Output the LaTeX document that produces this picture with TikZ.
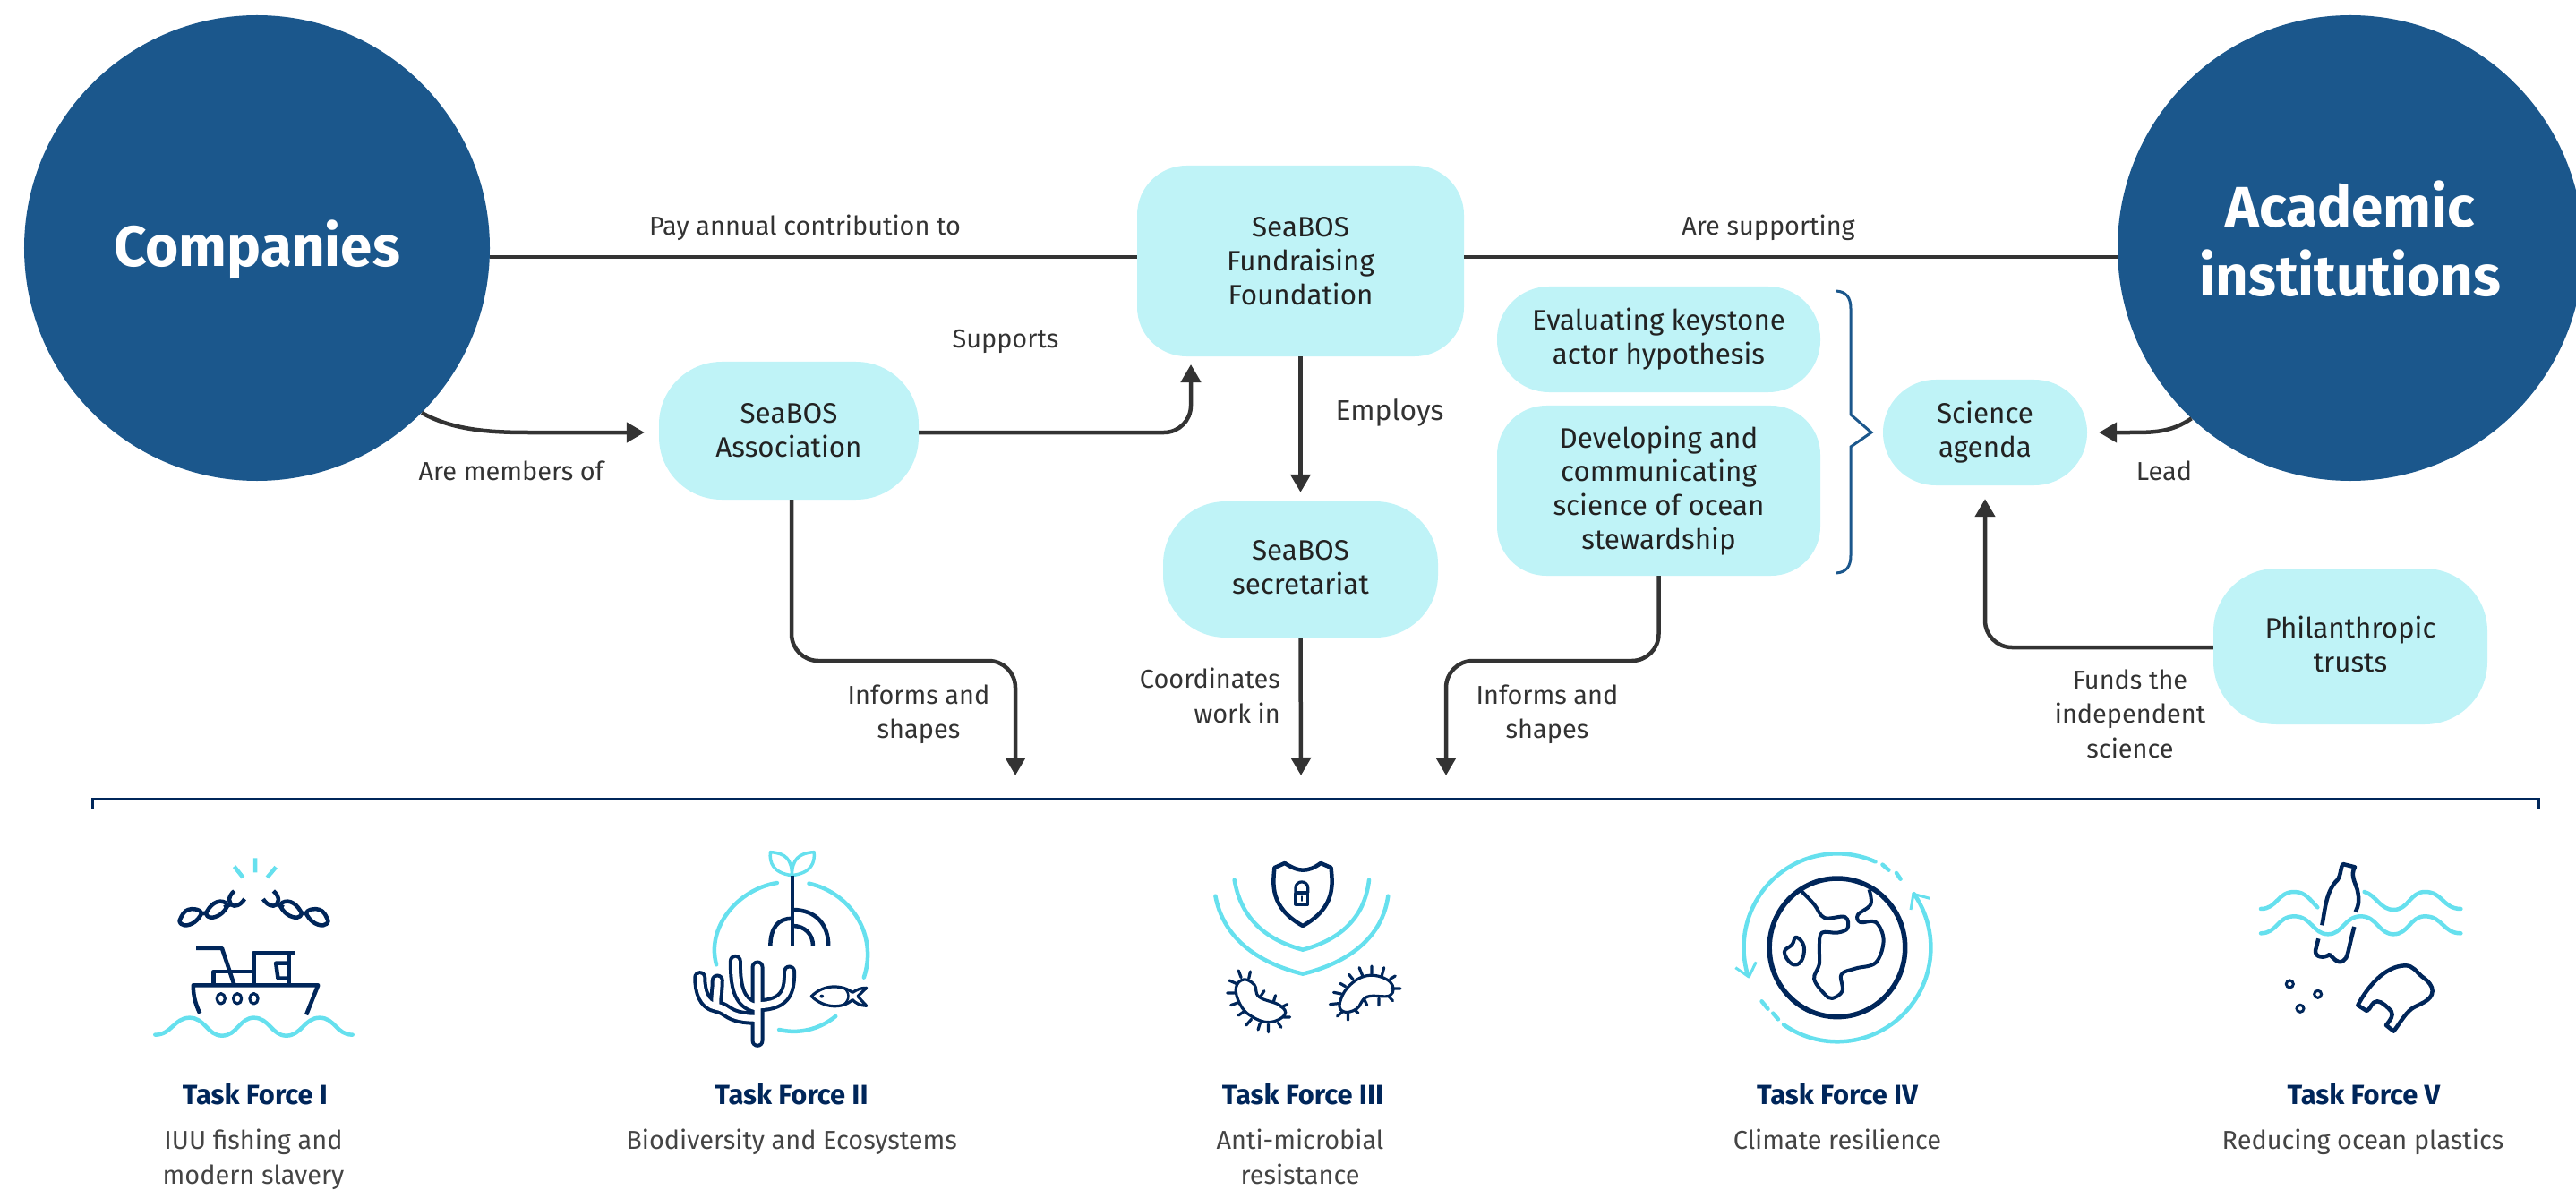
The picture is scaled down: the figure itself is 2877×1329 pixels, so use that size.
\documentclass[tikz,border=0pt]{standalone}
\usepackage{fontspec}
\setmainfont{Fira Sans}
\usetikzlibrary{arrows.meta,calc}
\definecolor{bigblue}{HTML}{1B578C}
\definecolor{pale}{HTML}{BFF3F7}
\definecolor{navy}{HTML}{00265A}
\definecolor{aqua}{HTML}{66E0EE}
\definecolor{ink}{HTML}{222222}
\definecolor{linec}{HTML}{333333}
\definecolor{graytxt}{HTML}{444444}
\tikzset{
  bigcircle/.style={circle,fill=bigblue,text=white,inner sep=0pt,minimum size=520bp,align=center,font=\fontsize{64}{77}\selectfont\bfseries},
  palebox/.style={fill=pale,text=ink,inner sep=0pt,align=center,font=\fontsize{31.5}{38}\selectfont},
  lab/.style={text=linec,inner sep=0pt,align=center,font=\fontsize{29}{38.5}\selectfont},
  tftitle/.style={text=navy,inner sep=0pt,font=\fontsize{31}{36}\selectfont\bfseries},
  tfsub/.style={text=graytxt,inner sep=0pt,align=center,font=\fontsize{29}{38.5}\selectfont},
  conn/.style={draw=linec,line width=4.5bp},
  arrowconn/.style={conn,-{Triangle[length=20bp,width=22bp]}},
  bent/.style={arrowconn,rounded corners=30bp},
  ic/.style={draw=navy,line width=4.5bp,line join=round},
  icthin/.style={draw=navy,line width=3.2bp,line join=round,line cap=round},
  cy/.style={draw=aqua,line width=4.5bp,line cap=round,line join=round},
  zoomA/.style={xscale=0.574,yscale=0.3333},
}
\begin{document}
\begin{tikzpicture}[x=1bp,y=-1bp]
\useasboundingbox (0,0) rectangle (2877,1329);

% circles
\node[bigcircle] (comp) at (287,277) {\raisebox{-21bp}[0pt][0pt]{Companies}};
\node[bigcircle] (acad) at (2625,277) {Academic\\institutions\\[-55bp]\mbox{}};

% boxes
\node[palebox,minimum width=365bp,minimum height=213bp,rounded corners=55bp] (fund) at (1452.5,291.5) {SeaBOS\\Fundraising\\Foundation};
\node[palebox,minimum width=290bp,minimum height=154bp,rounded corners=70bp] (assoc) at (881,481) {SeaBOS\\Association};
\node[palebox,minimum width=307bp,minimum height=152bp,rounded corners=70bp] (sec) at (1452.5,636) {SeaBOS\\secretariat\\[-32bp]\mbox{}};
\node[palebox,minimum width=361bp,minimum height=118bp,rounded corners=58bp] (keystone) at (1852.5,379) {Evaluating keystone\\actor hypothesis};
\node[palebox,minimum width=361bp,minimum height=190bp,rounded corners=55bp] (dev) at (1852.5,548) {Developing and\\communicating\\science of ocean\\stewardship};
\node[palebox,minimum width=228bp,minimum height=118bp,rounded corners=59bp] (sci) at (2217,483) {Science\\agenda};
\node[palebox,minimum width=306bp,minimum height=174bp,rounded corners=70bp] (phil) at (2625,722) {Philanthropic\\trusts\\[-32bp]\mbox{}};

% free ends
\coordinate (fundin) at (1330,407);
\coordinate (tfa) at (1134,866);
\coordinate (tfb) at (1453,866);
\coordinate (tfc) at (1615,866);

% connectors
\draw[conn] ([yshift=4.5bp]fund.west -| comp.-2.2) -- ([yshift=4.5bp]fund.west);
\draw[conn] ([yshift=4.5bp]fund.east) -- ([yshift=4.5bp]fund.east -| acad.182.2);
\draw[arrowconn] (comp.-45) .. controls (505,480) and (545,483) .. (590,483) -- ([xshift=-16bp,yshift=-2bp]assoc.west);
\draw[bent] ([yshift=-2bp]assoc.east) -| (fundin);
\draw[arrowconn] (fund.south) -- ([yshift=10bp]sec.north);
\draw[bent] ([xshift=3bp]assoc.south) |- ($(tfa)+(0,-128)$) -- (tfa);
\draw[arrowconn] (sec.south) -- (tfb);
\draw[bent] (dev.south) |- ($(tfc)+(0,-128)$) -- (tfc);
\draw[bent] ([yshift=-1bp]phil.west) -| ([yshift=-15bp]sci.south);
\draw[arrowconn] (acad.227) .. controls (2425,483) and (2405,483) .. (2378,483) -- ([xshift=13bp]sci.east);

% brace
\draw[draw=bigblue,line width=3bp,line join=miter]
  (2051,325) .. controls (2062,326) and (2067,332) .. (2067,345) -- (2067,463) -- (2090,483) -- (2067,499) -- (2067,620) .. controls (2067,633) and (2062,639) .. (2051,640);

% labels
\node[lab] (l1) at (899,254) {Pay annual contribution to};
\node[lab] (l2) at (1975,254) {Are supporting};
\node[lab] (l3) at (1123,381) {Supports};
\node[lab,font=\fontsize{32}{38}\selectfont] (l4) at (1552,461) {Employs};
\node[lab] (l5) at (571,526) {Are members of};
\node[lab] (l6) at (2417,526) {Lead};
\node[lab] (l7) at (1026,798) {Informs and\\shapes};
\node[lab,align=right,anchor=east] (l8) at (1430,777) {Coordinates\\work in};
\node[lab] (l9) at (1728,798) {Informs and\\shapes};
\node[lab] (l10) at (2379,797) {Funds the\\independent\\science};

% bracket
\draw[draw=navy,line width=3bp] (103,903) -- (103,892) -- (2835,892) -- (2835,903);

% task force texts
\node[tftitle] (t1) at (285,1222) {Task Force I};
\node[tftitle] (t2) at (884,1222) {Task Force II};
\node[tftitle] (t3) at (1455,1222) {Task Force III};
\node[tftitle] (t4) at (2052,1222) {Task Force IV};
\node[tftitle] (t5) at (2640,1222) {Task Force V};
\node[tfsub,anchor=north] (s1) at (283,1261) {IUU fishing and\\modern slavery};
\node[tfsub,anchor=north] (s2) at (884,1261) {Biodiversity and Ecosystems};
\node[tfsub,anchor=north] (s3) at (1452,1261) {Anti-microbial\\resistance};
\node[tfsub,anchor=north] (s4) at (2052,1261) {Climate resilience};
\node[tfsub,anchor=north] (s5) at (2639,1261) {Reducing ocean plastics};

% ICONS 1 and 2
\begin{scope}[shift={(140,930)},zoomA]
 % sparks
 \draw[cy,line cap=butt] (253,85)--(253,133) (212,113)--(229,150) (293,115)--(276,150);
 % chain
 \begin{scope}[every path/.append style={line width=5bp}]
 \draw[ic] plot[smooth cycle,tension=.8] coordinates {(108,285)(122,258)(145,262)(143,285)(125,308)(108,305)};
 \draw[ic] plot[smooth cycle,tension=.8] coordinates {(160,260)(178,232)(197,238)(192,262)(175,282)(160,280)};
 \draw[ic] (145,272)--(160,268) (192,250)--(205,240);
 \draw[ic] (212,195) .. controls (198,215) and (200,240) .. (212,245) .. controls (222,245) and (228,232) .. (232,222);
 \draw[ic] plot[smooth cycle,tension=.8] coordinates {(392,285)(378,258)(355,262)(357,285)(375,308)(392,305)};
 \draw[ic] plot[smooth cycle,tension=.8] coordinates {(340,260)(322,232)(303,238)(308,262)(325,282)(340,280)};
 \draw[ic] (355,272)--(340,268) (308,250)--(295,240);
 \draw[ic] (288,195) .. controls (302,215) and (300,240) .. (288,245) .. controls (278,245) and (272,232) .. (268,222);
 \end{scope}
 % boat
 \draw[ic] (145,605) .. controls (135,570) and (132,540) .. (132,511) -- (375,511) -- (352,610);
 \draw[ic] (172,511)--(172,465)--(248,465);
 \draw[ic] (250,511)--(250,402)--(330,402);
 \draw[ic] (318,402)--(318,511);
 \draw[ic] (318,437)--(293,437)--(297,488)--(318,488);
 \draw[ic] (138,387)--(188,387)--(212,511);
 \foreach \px in {186,218,250}{\draw[icthin] (\px,556) ellipse [x radius=8,y radius=17];}
 \draw[cy] (58,677) .. controls (90,677) and (95,620) .. (125,620) .. controls (155,620) and (160,680) .. (188,680) .. controls (218,680) and (222,620) .. (250,620) .. controls (280,620) and (285,680) .. (313,680) .. controls (343,680) and (348,620) .. (378,620) .. controls (408,620) and (410,677) .. (442,677);
 % plant
 \draw[cy,line width=3.5bp] (1297,143) .. controls (1260,135) and (1253,100) .. (1255,65) .. controls (1285,68) and (1297,90) .. (1297,143) .. controls (1297,90) and (1310,68) .. (1340,65) .. controls (1342,100) and (1335,135) .. (1297,143);
 \draw[ic] (1298,143)--(1298,380);
 \draw[ic] (1298,258) .. controls (1345,258) and (1368,310) .. (1368,380);
 \draw[ic] (1298,288) .. controls (1270,285) and (1255,320) .. (1255,380);
 \draw[ic] (1298,312) .. controls (1322,312) and (1338,340) .. (1338,380);
 \draw[cy] (1268,168) .. controls (1190,190) and (1130,320) .. (1150,442);
 \draw[cy] (1330,170) .. controls (1410,200) and (1465,340) .. (1437,485);
 \draw[cy] (1272,660) .. controls (1310,675) and (1350,660) .. (1382,615);
 % coral
 \draw[draw=navy,line width=4bp,double=white,double distance=7bp,line cap=round,line join=round]
   (1230,697) -- (1230,450)
   (1230,578) .. controls (1290,578) and (1292,520) .. (1292,465)
   (1230,585) .. controls (1190,575) and (1187,500) .. (1187,430)
   (1230,622) .. controls (1170,622) and (1175,590) .. (1150,583) .. controls (1125,575) and (1118,530) .. (1118,485)
   (1150,583) .. controls (1148,560) and (1152,530) .. (1152,495);
 % fish
 \draw[icthin] (1335,548) .. controls (1360,505) and (1395,510) .. (1415,535) .. controls (1425,525) and (1430,520) .. (1442,520) -- (1425,548) -- (1442,580) .. controls (1430,580) and (1420,570) .. (1415,560) .. controls (1395,590) and (1360,590) .. (1335,548) -- cycle;
 \draw[icthin,line width=2.4bp] (1397,518) .. controls (1410,535) and (1410,560) .. (1397,577);
 \fill[navy] (1355,548) ellipse [x radius=4,y radius=6];
\end{scope}

% ICONS 3 and 4
\begin{scope}[shift={(1300,930)},zoomA]
 \draw[ic] (215,117) -- (235,102) .. controls (250,118) and (260,125) .. (270,125) .. controls (282,125) and (292,118) .. (305,102) -- (325,117) .. controls (328,170) and (335,250) .. (270,312) .. controls (205,250) and (212,170) .. (215,117) -- cycle;
 \draw[icthin] (256,203) rectangle (280,240);
 \draw[icthin] (256,200) -- (256,185) .. controls (256,158) and (280,158) .. (280,185) -- (280,200) -- cycle;
 \draw[icthin,line width=1.6bp] (268,213)--(268,228);
 \draw[cy] (137,158) .. controls (150,290) and (200,360) .. (270,392) .. controls (340,360) and (390,290) .. (399,158);
 \draw[cy] (100,212) .. controls (115,350) and (180,435) .. (270,473) .. controls (360,435) and (425,350) .. (436,212);
 % bacteria
 \draw[icthin] plot[smooth cycle,tension=.7] coordinates {(140,520)(155,492)(176,510)(185,550)(225,578)(235,610)(205,635)(170,615)(148,575)};
 \draw[icthin] (145,462)--(150,485) (168,465)--(165,488) (127,495)--(140,505) (123,537)--(137,537) (130,578)--(143,570) (145,612)--(155,600) (160,645)--(170,625) (183,660)--(187,638) (203,668)--(203,642) (228,652)--(222,637) (245,618)--(233,618) (240,575)--(228,585) (217,545)--(213,567) (195,530)--(188,548);
 \draw[icthin] plot[smooth cycle,tension=.7] coordinates {(342,570)(362,510)(400,478)(440,500)(440,545)(395,550)(375,590)(350,600)};
 \draw[icthin] (380,452)--(386,478) (404,447)--(404,472) (428,452)--(424,478) (450,480)--(440,490) (460,522)--(443,522) (445,563)--(437,548) (418,578)--(418,555) (395,578)--(390,560) (360,475)--(368,492) (343,505)--(353,515) (330,535)--(345,540) (323,575)--(340,572) (337,615)--(347,600) (358,628)--(358,605) (378,605)--(372,595);
 % globe
 \draw[ic,line width=5.5bp] (1310,385) ellipse [x radius=132,y radius=232];
 \draw[ic,line width=4bp,line cap=butt] plot[smooth,tension=.6] coordinates {(1240,195)(1265,240)(1285,285)(1325,282)(1330,320)(1310,335)(1280,335)(1275,380)(1275,440)(1265,490)(1285,540)(1300,555)(1320,530)(1318,475)(1345,455)(1385,435)(1400,360)(1385,300)(1355,300)(1350,275)(1375,240)(1372,190)};
 \draw[ic,line width=4bp] plot[smooth cycle,tension=.7] coordinates {(1230,350)(1245,380)(1240,430)(1222,440)(1207,400)(1222,375)};
 % ring
 \draw[cy] plot[domain=66:197,samples=60] ({1310+182*cos(\x)},{385-315*sin(\x)});
 \draw[cy] plot[domain=235:395,samples=60] ({1310+182*cos(\x)},{385-315*sin(\x)});
 \draw[cy,line width=3bp,line cap=butt] (1112,452)--(1138,483)--(1152,433);
 \draw[cy,line width=3bp,line cap=butt] (1490,220)--(1458,205)--(1453,258);
 \draw[cy] (1398,107)--(1410,125) (1425,135)--(1433,155) (1163,565)--(1175,590) (1185,605)--(1195,625);
\end{scope}

% ICON 5
\begin{scope}[shift={(2400,930)},scale=0.3333]
 \draw[ic] (580,310) .. controls (590,260) and (592,205) .. (625,165) .. controls (645,150) and (640,120) .. (650,105) -- (690,115) .. controls (675,140) and (690,165) .. (698,190) .. controls (705,220) and (705,240) .. (692,265);
 \draw[ic] (568,355) -- (558,395) .. controls (556,420) and (590,420) .. (605,408) .. controls (620,420) and (630,440) .. (650,430) .. controls (668,420) and (665,400) .. (688,315);
 \draw[cy] (375,255) .. controls (430,255) and (430,198) .. (487,198) .. controls (525,198) and (540,225) .. (565,250);
 \draw[cy] (722,198) .. controls (760,208) and (775,258) .. (820,258) .. controls (870,258) and (875,198) .. (925,198) .. controls (985,198) and (985,255) .. (1045,255);
 \draw[cy] (375,337) .. controls (430,337) and (430,280) .. (487,280) .. controls (545,280) and (550,340) .. (600,340) .. controls (650,340) and (655,280) .. (710,280) .. controls (765,280) and (770,340) .. (820,340) .. controls (870,340) and (875,280) .. (925,280) .. controls (985,280) and (985,337) .. (1045,337);
 \draw[ic] (700,578) .. controls (730,520) and (790,445) .. (860,445) .. controls (885,445) and (895,465) .. (915,482) .. controls (940,500) and (950,515) .. (950,530) .. controls (950,565) and (900,575) .. (880,590) .. controls (855,610) and (840,640) .. (820,665) -- (795,645) .. controls (810,625) and (820,615) .. (812,598) .. controls (800,585) and (780,565) .. (765,565) .. controls (745,565) and (745,590) .. (730,597) -- cycle;
 \foreach \cx/\cy in {472/507,566/541,507/589}{\draw[draw=navy,line width=3bp] (\cx,\cy) circle [radius=12];}
\end{scope}
\end{tikzpicture}
\end{document}
